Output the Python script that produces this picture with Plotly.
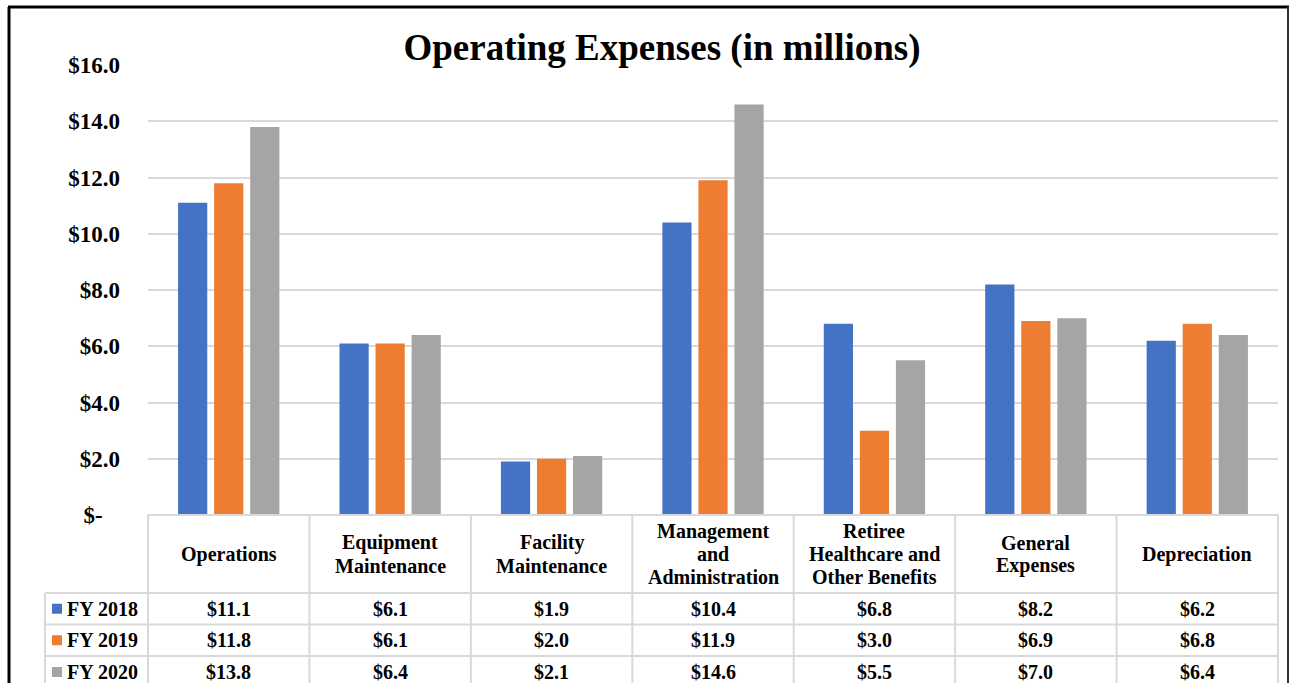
import plotly.graph_objects as go

# ---------------- data ----------------
categories = ["Operations", "Equipment Maintenance", "Facility Maintenance",
              "Management and Administration", "Retiree Healthcare and Other Benefits",
              "General Expenses", "Depreciation"]
header_lines = [["Operations"], ["Equipment", "Maintenance"], ["Facility", "Maintenance"],
                ["Management", "and", "Administration"], ["Retiree", "Healthcare and", "Other Benefits"],
                ["General", "Expenses"], ["Depreciation"]]
series_names = ["FY 2018", "FY 2019", "FY 2020"]
fy2018 = [11.1, 6.1, 1.9, 10.4, 6.8, 8.2, 6.2]
fy2019 = [11.8, 6.1, 2.0, 11.9, 3.0, 6.9, 6.8]
fy2020 = [13.8, 6.4, 2.1, 14.6, 5.5, 7.0, 6.4]
series_values = [fy2018, fy2019, fy2020]
colors = ["#4472C4", "#ED7D31", "#A5A5A5"]
y_tickvals = [0, 2, 4, 6, 8, 10, 12, 14, 16]
y_ticktext = ["$-\u00a0\u00a0\u00a0", "$2.0", "$4.0", "$6.0", "$8.0", "$10.0", "$12.0", "$14.0", "$16.0"]

# ---------------- geometry ----------------
W, H = 1294, 683
ML, MR, MT, MB = 148, 16, 65, 168
PW = W - ML - MR
PH = H - MT - MB
FONT = "Liberation Serif, Times New Roman, serif"
GRID = "#D9D9D9"
n = len(categories)

def px_x(x):
    return (x - ML) / PW

def px_y(y):
    return (H - MB - y) / PH

fig = go.Figure()
for name, vals, col in zip(series_names, series_values, colors):
    fig.add_trace(go.Bar(x=list(range(n)), y=vals, name=name, marker_color=col,
                         marker_line_width=0, showlegend=False))

shapes = []
annotations = []

# outer frame
shapes.append(dict(type="line", xref="paper", yref="paper", x0=px_x(9), x1=px_x(9),
                   y0=px_y(7), y1=px_y(700), line=dict(color="black", width=3)))
shapes.append(dict(type="line", xref="paper", yref="paper", x0=px_x(8), x1=px_x(1289),
                   y0=px_y(7), y1=px_y(7), line=dict(color="black", width=3)))
shapes.append(dict(type="line", xref="paper", yref="paper", x0=px_x(1288), x1=px_x(1288),
                   y0=px_y(7), y1=px_y(700), line=dict(color="#333333", width=2)))

# table geometry
row_lines = [515, 593, 624.5, 656, 688]
legend_left = 45
col_bounds = [i / n for i in range(n + 1)]  # paper x of category boundaries

# horizontal lines
shapes.append(dict(type="line", xref="paper", yref="paper", x0=0, x1=1,
                   y0=px_y(row_lines[0]), y1=px_y(row_lines[0]), line=dict(color=GRID, width=2)))
for yl in row_lines[1:]:
    shapes.append(dict(type="line", xref="paper", yref="paper", x0=px_x(legend_left), x1=1,
                       y0=px_y(yl), y1=px_y(yl), line=dict(color=GRID, width=2)))
# vertical lines
for cb in col_bounds:
    shapes.append(dict(type="line", xref="paper", yref="paper", x0=cb, x1=cb,
                       y0=px_y(row_lines[0]), y1=px_y(row_lines[-1]), line=dict(color=GRID, width=2)))
shapes.append(dict(type="line", xref="paper", yref="paper", x0=px_x(legend_left), x1=px_x(legend_left),
                   y0=px_y(row_lines[1]), y1=px_y(row_lines[-1]), line=dict(color=GRID, width=2)))

# header texts
TFS = 20
LINE = 23
hdr_mid = (row_lines[0] + row_lines[1]) / 2
for i, lines in enumerate(header_lines):
    k = len(lines)
    for j, t in enumerate(lines):
        yc = hdr_mid + (j - (k - 1) / 2) * LINE
        annotations.append(dict(x=i, xref="x", y=px_y(yc), yref="paper", text="<b>%s</b>" % t,
                                showarrow=False, xanchor="center", yanchor="middle",
                                font=dict(family=FONT, size=TFS, color="black")))

# value rows + legend keys
for r, (name, vals, col) in enumerate(zip(series_names, series_values, colors)):
    yc = (row_lines[r + 1] + row_lines[r + 2]) / 2
    for i, v in enumerate(vals):
        annotations.append(dict(x=i, xref="x", y=px_y(yc), yref="paper", text="<b>$%.1f</b>" % v,
                                showarrow=False, xanchor="center", yanchor="middle",
                                font=dict(family=FONT, size=TFS, color="black")))
    shapes.append(dict(type="rect", xref="paper", yref="paper", x0=px_x(52), x1=px_x(62),
                       y0=px_y(yc - 5), y1=px_y(yc + 5), fillcolor=col, line=dict(width=0)))
    annotations.append(dict(x=px_x(65), xref="paper", y=px_y(yc), yref="paper", text="<b>%s</b>" % name,
                            showarrow=False, xanchor="left", yanchor="middle",
                            font=dict(family=FONT, size=TFS, color="black")))

fig.update_layout(
    width=W, height=H,
    margin=dict(l=ML, r=MR, t=MT, b=MB, pad=0),
    paper_bgcolor="white", plot_bgcolor="white",
    barmode="group", bargap=0.33, bargroupgap=0.19,
    title=dict(text="<b>Operating Expenses (in millions)</b>", x=662 / W, xref="container",
               xanchor="center", y=1 - 47 / H, yref="container", yanchor="middle",
               font=dict(family=FONT, size=37, color="black")),
    xaxis=dict(range=[-0.5, n - 0.5], showticklabels=False, showgrid=False, zeroline=False,
               showline=False, ticks=""),
    yaxis=dict(range=[0, 16], tickvals=y_tickvals, ticktext=["<b>%s</b>" % t for t in y_ticktext],
               showgrid=True, gridcolor=GRID, gridwidth=2, zeroline=False, showline=False, ticks="",
               ticklabelstandoff=27,
               tickfont=dict(family=FONT, size=23, color="black")),
    shapes=shapes, annotations=annotations,
)

fig.write_html("out.html")
